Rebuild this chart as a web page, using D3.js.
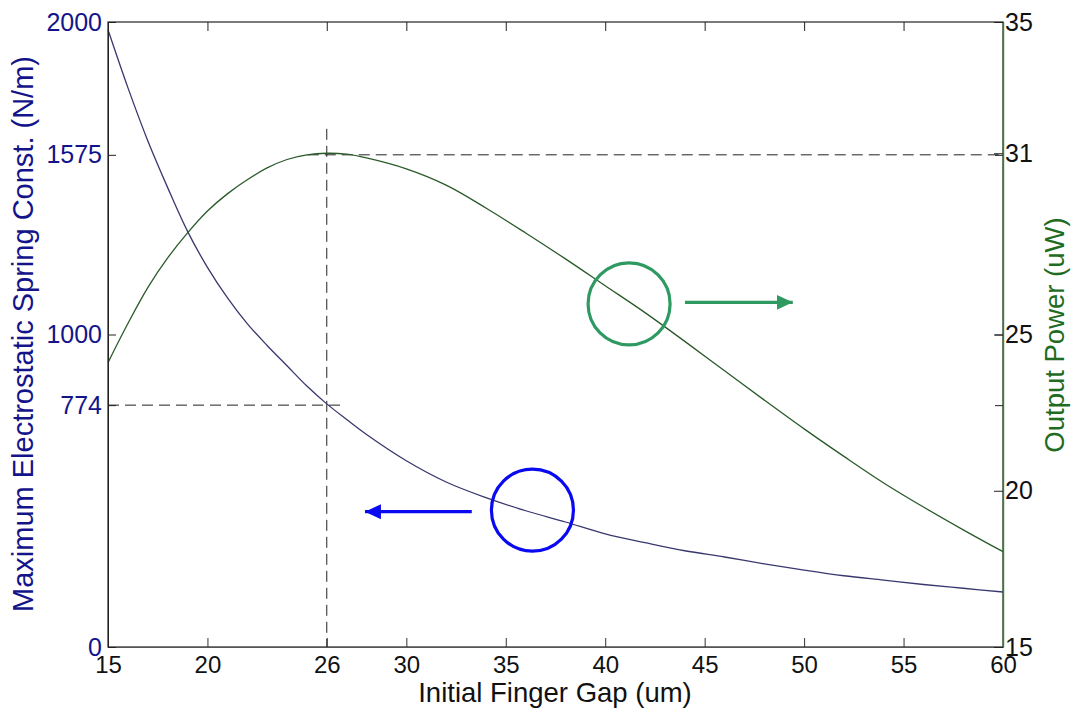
<!DOCTYPE html>
<html>
<head>
<meta charset="utf-8">
<script src="https://cdn.jsdelivr.net/npm/d3@7"></script>
<style>
  body { margin: 0; background: #fff; }
  text { font-family: "Liberation Sans", Arial, sans-serif; }
</style>
</head>
<body>
<div id="chart"></div>
<script>
// data
var gap = [15, 16, 17, 18, 19, 20, 21, 22, 23, 24, 25, 26, 27, 28, 30, 32, 34, 36, 38, 40,
           42, 44, 46, 48, 50, 52, 54, 56, 58, 60];
var springConst = [1975, 1790, 1620, 1470, 1330, 1215, 1118, 1035, 965, 900, 835, 778, 728, 680, 596, 528, 478, 436, 400, 362,
                   334, 308, 288, 266, 246, 228, 214, 200, 188, 176];
var outputPower = [24.1, 25.35, 26.5, 27.45, 28.25, 28.95, 29.5, 29.95, 30.33, 30.6, 30.75, 30.8, 30.77, 30.65, 30.3, 29.78, 29.05, 28.25, 27.42, 26.56,
                   25.7, 24.78, 23.84, 22.9, 21.98, 21.1, 20.25, 19.48, 18.75, 18.05];

var xTicks = [15, 20, 26, 30, 35, 40, 45, 50, 55, 60];
var leftTicks = [0, 774, 1000, 1575, 2000];
var rightTicks = [15, 20, 25, 30.8, 35];
var rightTickLabels = ["15", "20", "25", "31", "35"];

// optimum point marked with dashed guides
var optGap = 26, optSpring = 774, optSpringTop = 1575;

// annotation marks in data units
var blueMark = {gap: 36.34, value: 438, arrowFrom: 33.29, arrowTo: 27.92, arrowAt: 433};
var greenMark = {gap: 41.2, value: 25.98, arrowFrom: 44.01, arrowTo: 49.43, arrowAt: 26.03};

var W = 1076, H = 713;
var margin = {top: 22, right: 73, bottom: 66, left: 108},
    width = W - margin.left - margin.right,
    height = H - margin.top - margin.bottom;

var navy = "#14148a", dkgreen = "#1f6b1f";

var svg = d3.select("#chart").append("svg")
    .attr("width", W).attr("height", H);

var defs = svg.append("defs");
function marker(id, color) {
  defs.append("marker")
      .attr("id", id)
      .attr("viewBox", "0 0 16 16")
      .attr("refX", 16).attr("refY", 8)
      .attr("markerWidth", 16).attr("markerHeight", 16)
      .attr("markerUnits", "userSpaceOnUse")
      .attr("orient", "auto")
    .append("path")
      .attr("d", "M0,0.5 L16,8 L0,15.5 Z")
      .attr("fill", color);
}
marker("headBlue", "#0a0af0");
marker("headGreen", "#2e9a62");

var g = svg.append("g")
    .attr("transform", "translate(" + margin.left + "," + margin.top + ")");

var x = d3.scaleLinear().domain([15, 60]).range([0, width]);
var yL = d3.scaleLinear().domain([0, 2000]).range([height, 0]);
var yR = d3.scaleLinear().domain([15, 35]).range([height, 0]);

// box
g.append("rect")
    .attr("width", width).attr("height", height)
    .attr("fill", "none").attr("stroke", "#222").attr("stroke-width", 1.2);

// dashed guides
var dash = "11,6";
g.append("line")
    .attr("x1", x(optGap)).attr("x2", x(optGap))
    .attr("y1", yL(optSpringTop) - 26).attr("y2", height)
    .attr("stroke", "#222").attr("stroke-dasharray", dash);
g.append("line")
    .attr("x1", x(optGap) - 19).attr("x2", width)
    .attr("y1", yL(optSpringTop)).attr("y2", yL(optSpringTop))
    .attr("stroke", "#222").attr("stroke-dasharray", dash);
g.append("line")
    .attr("x1", 0).attr("x2", x(optGap) + 18)
    .attr("y1", yL(optSpring)).attr("y2", yL(optSpring))
    .attr("stroke", "#222").attr("stroke-dasharray", dash);

// curves
var springLine = d3.line()
    .x(function(d, i) { return x(gap[i]); })
    .y(function(d) { return yL(d); })
    .curve(d3.curveCatmullRom.alpha(0.5));
var powerLine = d3.line()
    .x(function(d, i) { return x(gap[i]); })
    .y(function(d) { return yR(d); })
    .curve(d3.curveCatmullRom.alpha(0.5));

g.append("path").datum(springConst)
    .attr("d", springLine)
    .attr("fill", "none").attr("stroke", "#38386e").attr("stroke-width", 1.3);
g.append("path").datum(outputPower)
    .attr("d", powerLine)
    .attr("fill", "none").attr("stroke", "#2a5a2a").attr("stroke-width", 1.3);

// x axis (bottom + mirrored top ticks)
var xAxis = g.append("g")
    .attr("transform", "translate(0," + height + ")")
    .call(d3.axisBottom(x).tickValues(xTicks).tickFormat(d3.format("d")).tickSizeInner(-9).tickSizeOuter(0));
xAxis.select(".domain").attr("stroke", "#555");
xAxis.selectAll(".tick line").attr("stroke", "#333");
xAxis.selectAll("text").attr("font-size", 24).attr("fill", "#111").attr("dy", "0.71em").attr("y", 9);

var xTop = g.append("g")
    .call(d3.axisTop(x).tickValues(xTicks).tickSizeInner(-9).tickSizeOuter(0).tickFormat(""));
xTop.select(".domain").remove();
xTop.selectAll(".tick line").attr("stroke", "#222");

// left axis
var yAxisL = g.append("g")
    .call(d3.axisLeft(yL).tickValues(leftTicks).tickFormat(d3.format("d")).tickSizeInner(-8).tickSizeOuter(0));
yAxisL.select(".domain").attr("stroke", "#222");
yAxisL.selectAll(".tick line").attr("stroke", "#222");
yAxisL.selectAll("text").attr("font-size", 25).attr("fill", navy).attr("x", -6);

// left ticks mirrored on right side
var yMirror = g.append("g")
    .attr("transform", "translate(" + width + ",0)")
    .call(d3.axisRight(yL).tickValues(leftTicks).tickSizeInner(-8).tickSizeOuter(0).tickFormat(""));
yMirror.select(".domain").remove();
yMirror.selectAll(".tick line").attr("stroke", "#222");

// right axis
var yAxisR = g.append("g")
    .attr("transform", "translate(" + width + ",0)")
    .call(d3.axisRight(yR).tickValues(rightTicks)
      .tickFormat(function(d, i) { return rightTickLabels[i]; })
      .tickSizeInner(-9).tickSizeOuter(0));
yAxisR.select(".domain").attr("stroke", "#2a8a2a").attr("stroke-width", 1.4);
yAxisR.selectAll(".tick line").attr("stroke", "#222");
yAxisR.selectAll("text").attr("font-size", 25).attr("fill", "#111").attr("x", 2);

// axis titles
svg.append("text")
    .attr("x", 555).attr("y", 702)
    .attr("text-anchor", "middle")
    .attr("font-size", 27.5).attr("fill", "#111")
    .text("Initial Finger Gap (um)");

svg.append("text")
    .attr("transform", "translate(33,334) rotate(-90)")
    .attr("text-anchor", "middle")
    .attr("font-size", 29).attr("fill", navy)
    .text("Maximum Electrostatic Spring Const. (N/m)");

svg.append("text")
    .attr("transform", "translate(1064,335) rotate(-90)")
    .attr("text-anchor", "middle")
    .attr("font-size", 27.5).attr("fill", dkgreen)
    .text("Output Power (uW)");

// annotations: circles with arrows pointing to the matching axis
g.append("circle")
    .attr("cx", x(blueMark.gap)).attr("cy", yL(blueMark.value)).attr("r", 41)
    .attr("fill", "none").attr("stroke", "#0a0af0").attr("stroke-width", 3.2);
g.append("line")
    .attr("x1", x(blueMark.arrowFrom)).attr("x2", x(blueMark.arrowTo))
    .attr("y1", yL(blueMark.arrowAt)).attr("y2", yL(blueMark.arrowAt))
    .attr("stroke", "#0a0af0").attr("stroke-width", 3.2)
    .attr("marker-end", "url(#headBlue)");

g.append("circle")
    .attr("cx", x(greenMark.gap)).attr("cy", yR(greenMark.value)).attr("r", 41)
    .attr("fill", "none").attr("stroke", "#2e9a62").attr("stroke-width", 3.2);
g.append("line")
    .attr("x1", x(greenMark.arrowFrom)).attr("x2", x(greenMark.arrowTo))
    .attr("y1", yR(greenMark.arrowAt)).attr("y2", yR(greenMark.arrowAt))
    .attr("stroke", "#2e9a62").attr("stroke-width", 3.2)
    .attr("marker-end", "url(#headGreen)");
</script>
</body>
</html>
